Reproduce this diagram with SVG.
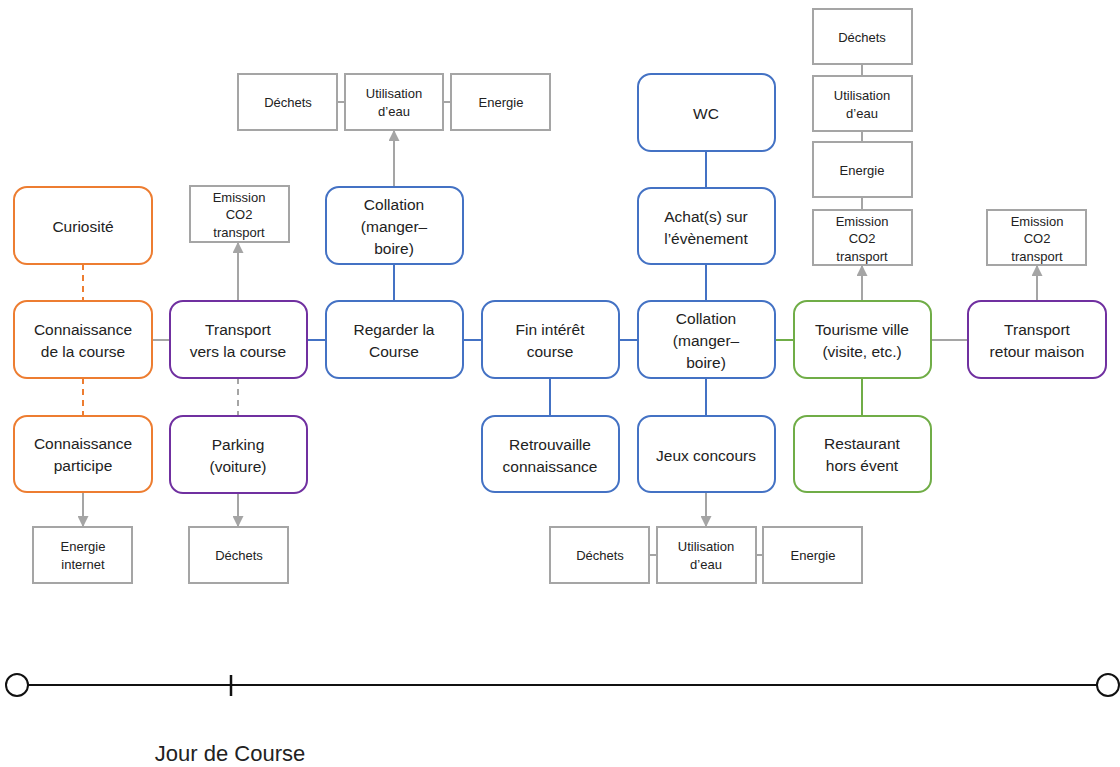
<svg xmlns="http://www.w3.org/2000/svg" width="1120" height="767" viewBox="0 0 1120 767">
  <defs>
    <style>
      .n rect { fill: #fff; stroke-width: 2; }
      .o rect { stroke: #ED7D31; }
      .p rect { stroke: #7030A0; }
      .b rect { stroke: #4472C4; }
      .g rect { stroke: #70AD47; }
      .s rect { fill: #fff; stroke: #A5A5A5; stroke-width: 2; }
      text { font-family: "Liberation Sans", Arial, sans-serif; fill: #222; text-anchor: middle; dominant-baseline: central; }
      .n text { font-size: 15.5px; }
      .s text { font-size: 13px; }
      .ln { fill: none; stroke-width: 2; }
      .gr { stroke: #A5A5A5; }
      .bl { stroke: #4472C4; }
      .gn { stroke: #70AD47; }
      .or { stroke: #ED7D31; }
      .dash { stroke-dasharray: 6 5; }
    </style>
    <marker id="arr" viewBox="0 0 10 10" refX="9" refY="5" markerWidth="11" markerHeight="11" markerUnits="userSpaceOnUse" orient="auto">
      <path d="M0,0 L10,5 L0,10 Z" fill="#A5A5A5"/>
    </marker>
  </defs>

  <!-- connectors -->
  <g id="connectors">
    <path class="ln or dash" d="M83,264 V301 M83,378 V416"/>
    <path class="ln gr dash" d="M238,378 V416"/>
    <path class="ln gr" d="M152,340 H170 M931,340 H968"/>
    <path class="ln bl" d="M307,340 H326 M463,340 H482 M619,340 H638"/>
    <path class="ln gn" d="M775,340 H794"/>
    <path class="ln bl" d="M394,264 V301 M550,378 V416 M706,151 V188 M706,264 V301 M706,378 V416"/>
    <path class="ln gn" d="M862,378 V416" stroke-width="3"/>
    <!-- arrows to impact boxes -->
    <path class="ln gr" stroke-width="1.5" d="M238,301 V243" marker-end="url(#arr)"/>
    <path class="ln gr" stroke-width="1.5" d="M394,187 V131" marker-end="url(#arr)"/>
    <path class="ln gr" stroke-width="1.5" d="M862,301 V266" marker-end="url(#arr)"/>
    <path class="ln gr" stroke-width="1.5" d="M1037,301 V266" marker-end="url(#arr)"/>
    <path class="ln gr" stroke-width="1.5" d="M83,492 V526" marker-end="url(#arr)"/>
    <path class="ln gr" stroke-width="1.5" d="M238,493 V526" marker-end="url(#arr)"/>
    <path class="ln gr" stroke-width="1.5" d="M706,492 V526" marker-end="url(#arr)"/>
    <!-- links between impact boxes -->
    <path class="ln gr" stroke-width="1.5" d="M337,102 H345 M443,102 H451 M649,555 H657 M756,555 H763 M862,64 V76 M862,131 V142 M862,197 V210"/>
  </g>

  <!-- main nodes -->
  <g id="curiosite" class="n o"><rect x="14" y="187" width="138" height="77" rx="13"/><text x="83" y="226">Curiosité</text></g>
  <g id="connaissance-course" class="n o"><rect x="14" y="301" width="138" height="77" rx="13"/><text x="83" y="329">Connaissance</text><text x="83" y="351">de la course</text></g>
  <g id="connaissance-participe" class="n o"><rect x="14" y="416" width="138" height="76" rx="13"/><text x="83" y="443">Connaissance</text><text x="83" y="465">participe</text></g>

  <g id="transport-aller" class="n p"><rect x="170" y="301" width="137" height="77" rx="13"/><text x="238" y="329">Transport</text><text x="238" y="351">vers la course</text></g>
  <g id="parking" class="n p"><rect x="170" y="416" width="137" height="77" rx="13"/><text x="238" y="444">Parking</text><text x="238" y="466">(voiture)</text></g>

  <g id="collation-1" class="n b"><rect x="326" y="187" width="137" height="77" rx="13"/><text x="394" y="204">Collation</text><text x="394" y="226">(manger–</text><text x="394" y="248">boire)</text></g>
  <g id="regarder" class="n b"><rect x="326" y="301" width="137" height="77" rx="13"/><text x="394" y="329">Regarder la</text><text x="394" y="351">Course</text></g>

  <g id="fin-interet" class="n b"><rect x="482" y="301" width="137" height="77" rx="13"/><text x="550" y="329">Fin intérêt</text><text x="550" y="351">course</text></g>
  <g id="retrouvaille" class="n b"><rect x="482" y="416" width="137" height="76" rx="13"/><text x="550" y="444">Retrouvaille</text><text x="550" y="466">connaissance</text></g>

  <g id="wc" class="n b"><rect x="638" y="74" width="137" height="77" rx="13"/><text x="706" y="113">WC</text></g>
  <g id="achats" class="n b"><rect x="638" y="188" width="137" height="76" rx="13"/><text x="706" y="216">Achat(s) sur</text><text x="706" y="238">l’évènement</text></g>
  <g id="collation-2" class="n b"><rect x="638" y="301" width="137" height="77" rx="13"/><text x="706" y="318">Collation</text><text x="706" y="340">(manger–</text><text x="706" y="362">boire)</text></g>
  <g id="jeux" class="n b"><rect x="638" y="416" width="137" height="76" rx="13"/><text x="706" y="455">Jeux concours</text></g>

  <g id="tourisme" class="n g"><rect x="794" y="301" width="137" height="77" rx="13"/><text x="862" y="329">Tourisme ville</text><text x="862" y="351">(visite, etc.)</text></g>
  <g id="restaurant" class="n g"><rect x="794" y="416" width="137" height="76" rx="13"/><text x="862" y="443">Restaurant</text><text x="862" y="465">hors évent</text></g>

  <g id="transport-retour" class="n p"><rect x="968" y="301" width="138" height="77" rx="13"/><text x="1037" y="329">Transport</text><text x="1037" y="351">retour maison</text></g>

  <!-- impact boxes -->
  <g id="co2-aller" class="s"><rect x="190" y="186" width="99" height="56"/><text x="239" y="197">Emission</text><text x="239" y="214">CO2</text><text x="239" y="232">transport</text></g>

  <g id="dechets-1" class="s"><rect x="238" y="74" width="99" height="56"/><text x="288" y="102">Déchets</text></g>
  <g id="eau-1" class="s"><rect x="345" y="74" width="98" height="56"/><text x="394" y="93">Utilisation</text><text x="394" y="111">d’eau</text></g>
  <g id="energie-1" class="s"><rect x="451" y="74" width="99" height="56"/><text x="501" y="102">Energie</text></g>

  <g id="energie-internet" class="s"><rect x="33" y="527" width="99" height="56"/><text x="83" y="546">Energie</text><text x="83" y="564">internet</text></g>
  <g id="dechets-parking" class="s"><rect x="189" y="527" width="99" height="56"/><text x="239" y="555">Déchets</text></g>

  <g id="dechets-2" class="s"><rect x="550" y="527" width="99" height="56"/><text x="600" y="555">Déchets</text></g>
  <g id="eau-2" class="s"><rect x="657" y="527" width="99" height="56"/><text x="706" y="546">Utilisation</text><text x="706" y="564">d’eau</text></g>
  <g id="energie-2" class="s"><rect x="763" y="527" width="99" height="56"/><text x="813" y="555">Energie</text></g>

  <g id="dechets-3" class="s"><rect x="813" y="9" width="99" height="55"/><text x="862" y="37">Déchets</text></g>
  <g id="eau-3" class="s"><rect x="813" y="76" width="99" height="55"/><text x="862" y="95">Utilisation</text><text x="862" y="113">d’eau</text></g>
  <g id="energie-3" class="s"><rect x="813" y="142" width="99" height="55"/><text x="862" y="170">Energie</text></g>
  <g id="co2-ville" class="s"><rect x="813" y="210" width="99" height="55"/><text x="862" y="221">Emission</text><text x="862" y="238">CO2</text><text x="862" y="256">transport</text></g>

  <g id="co2-retour" class="s"><rect x="987" y="210" width="99" height="55"/><text x="1037" y="221">Emission</text><text x="1037" y="238">CO2</text><text x="1037" y="256">transport</text></g>

  <!-- timeline -->
  <g id="timeline">
    <line x1="28" y1="685" x2="1097" y2="685" stroke="#111" stroke-width="2"/>
    <circle cx="17" cy="685" r="11" fill="#fff" stroke="#111" stroke-width="2"/>
    <circle cx="1108" cy="685" r="11" fill="#fff" stroke="#111" stroke-width="2"/>
    <line x1="231" y1="675" x2="231" y2="696" stroke="#111" stroke-width="2.5"/>
    <text x="230" y="753" font-size="22">Jour de Course</text>
  </g>
</svg>
